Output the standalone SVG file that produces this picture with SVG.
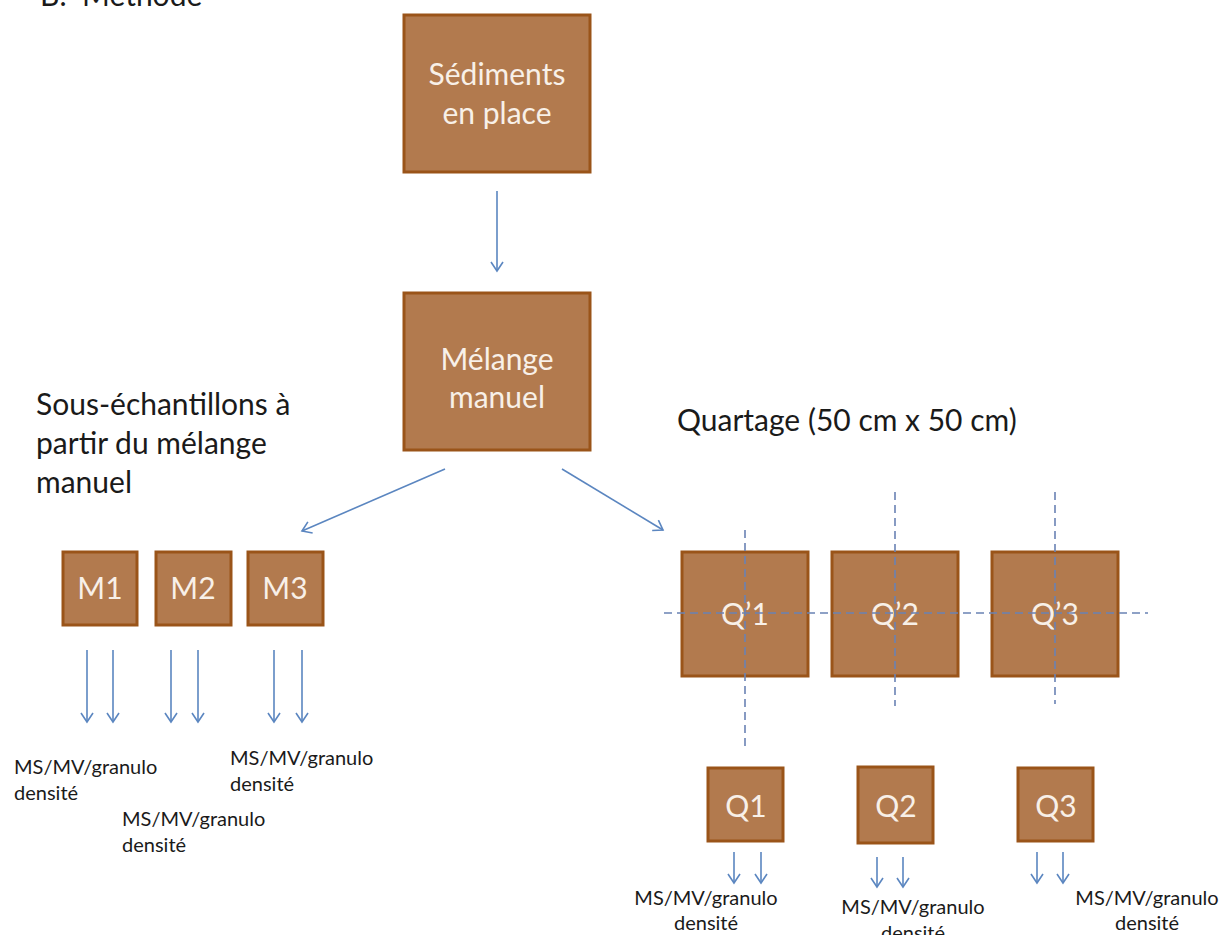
<svg xmlns="http://www.w3.org/2000/svg" width="1227" height="935" viewBox="0 0 1227 935">
<style>
.box{fill:#b27a4e;stroke:#9a5419;stroke-width:3}
.bt{font-family:Lato,"Liberation Sans",sans-serif;font-size:30px;fill:#f8f0e8;text-anchor:middle}
.lbl{font-family:Lato,"Liberation Sans",sans-serif;font-size:30px;fill:#1a1a1a}
.sm{font-family:Lato,"Liberation Sans",sans-serif;font-size:20px;fill:#1a1a1a}
.smc{font-family:Lato,"Liberation Sans",sans-serif;font-size:20px;fill:#1a1a1a;text-anchor:middle}
.arr{stroke:#5b86c0;stroke-width:1.6;fill:none;marker-end:url(#ah)}
.dash{stroke:#6a82b4;stroke-width:1.6;stroke-dasharray:8 5;fill:none}
</style>
<defs>
<marker id="ah" markerWidth="14" markerHeight="14" refX="10" refY="7" orient="auto" markerUnits="userSpaceOnUse">
<path d="M1,1 L10,7 L1,13" fill="none" stroke="#5b86c0" stroke-width="1.6"/>
</marker>
</defs>
<rect width="1227" height="935" fill="#ffffff"/>
<text class="lbl" y="6"><tspan x="40">B.</tspan><tspan x="82">Méthode</tspan></text>
<text class="lbl" x="36" y="415">Sous-échantillons à</text>
<text class="lbl" x="36" y="454">partir du mélange</text>
<text class="lbl" x="36" y="493">manuel</text>
<text class="lbl" x="677" y="431">Quartage (50 cm x 50 cm)</text>

<g id="sediments"><rect class="box" x="404" y="15" width="186" height="157"/><text class="bt" x="497" y="85">Sédiments</text><text class="bt" x="497" y="124">en place</text></g>
<g id="melange"><rect class="box" x="404" y="293" width="186" height="157"/><text class="bt" x="497" y="370">Mélange</text><text class="bt" x="497" y="408">manuel</text></g>

<g id="m1"><rect class="box" x="63" y="552" width="74" height="73"/><text class="bt" x="100" y="599">M1</text></g>
<g id="m2"><rect class="box" x="156" y="552" width="75" height="73"/><text class="bt" x="193" y="599">M2</text></g>
<g id="m3"><rect class="box" x="248" y="552" width="75" height="73"/><text class="bt" x="285" y="599">M3</text></g>

<g id="qp1"><rect class="box" x="682" y="552" width="126" height="124"/><text class="bt" x="745" y="625">Q’1</text></g>
<g id="qp2"><rect class="box" x="832" y="552" width="126" height="124"/><text class="bt" x="895" y="625">Q’2</text></g>
<g id="qp3"><rect class="box" x="992" y="552" width="126" height="124"/><text class="bt" x="1055" y="625">Q’3</text></g>

<g id="quartering">
<line class="dash" x1="664" y1="613" x2="1148" y2="613"/>
<line class="dash" x1="745" y1="530" x2="745" y2="748"/>
<line class="dash" x1="895" y1="492" x2="895" y2="706"/>
<line class="dash" x1="1055" y1="492" x2="1055" y2="704"/>
</g>

<g id="q1"><rect class="box" x="708" y="768" width="75" height="73"/><text class="bt" x="746" y="817">Q1</text></g>
<g id="q2"><rect class="box" x="858" y="767" width="75" height="76"/><text class="bt" x="896" y="817">Q2</text></g>
<g id="q3"><rect class="box" x="1018" y="768" width="75" height="73"/><text class="bt" x="1056" y="817">Q3</text></g>

<g id="connectors">
<line class="arr" x1="497" y1="191" x2="497" y2="271"/>
<line class="arr" x1="445" y1="469" x2="302" y2="531"/>
<line class="arr" x1="562" y1="469" x2="663" y2="530"/>
<line class="arr" x1="87" y1="650" x2="87" y2="722"/>
<line class="arr" x1="113" y1="650" x2="113" y2="722"/>
<line class="arr" x1="171" y1="650" x2="171" y2="722"/>
<line class="arr" x1="198" y1="650" x2="198" y2="722"/>
<line class="arr" x1="274" y1="650" x2="274" y2="722"/>
<line class="arr" x1="302" y1="650" x2="302" y2="722"/>
<line class="arr" x1="734" y1="852" x2="734" y2="883"/>
<line class="arr" x1="761" y1="852" x2="761" y2="883"/>
<line class="arr" x1="877" y1="857" x2="877" y2="887"/>
<line class="arr" x1="903" y1="857" x2="903" y2="887"/>
<line class="arr" x1="1037" y1="852" x2="1037" y2="883"/>
<line class="arr" x1="1063" y1="852" x2="1063" y2="883"/>
</g>

<g id="labels">
<text class="sm" x="14" y="774">MS/MV/granulo</text>
<text class="sm" x="14" y="800">densité</text>
<text class="sm" x="122" y="826">MS/MV/granulo</text>
<text class="sm" x="122" y="852">densité</text>
<text class="sm" x="230" y="765">MS/MV/granulo</text>
<text class="sm" x="230" y="791">densité</text>
<text class="smc" x="706" y="905">MS/MV/granulo</text>
<text class="smc" x="706" y="930">densité</text>
<text class="smc" x="913" y="914">MS/MV/granulo</text>
<text class="smc" x="913" y="940">densité</text>
<text class="smc" x="1147" y="905">MS/MV/granulo</text>
<text class="smc" x="1147" y="930">densité</text>
</g>
</svg>
